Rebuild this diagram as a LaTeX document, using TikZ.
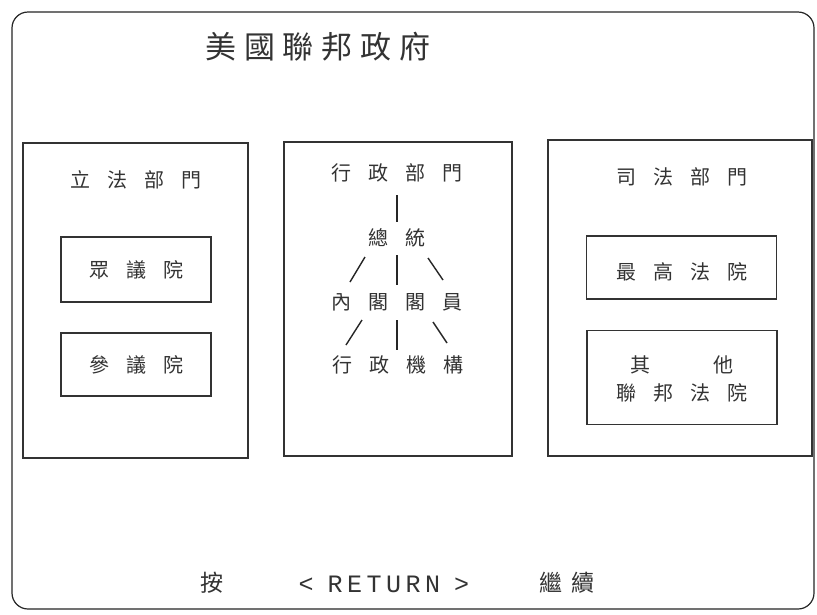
\documentclass[tikz,border=0pt]{standalone}
\usepackage{fontspec}
\newfontfamily\cjk{Noto Sans CJK TC}
\newfontfamily\monof{Liberation Mono}
\newcommand\gapc{\hspace{17pt}}
\newcommand\gapm{\hspace{4.5pt}}
\begin{document}
\begin{tikzpicture}[x=1pt,y=-1pt,
  frame/.style={draw=black!85, line width=1.2pt, rounded corners=16pt},
  panel/.style={draw=black!80, line width=1.4pt, inner sep=0pt, fill=none},
  lbl/.style={font=\cjk\fontsize{20}{28}\selectfont, inner sep=0pt, text=black!80, align=center},
  blbl/.style={font=\cjk\fontsize{23}{28}\selectfont, inner sep=0pt, text=black!80},
  ttl/.style={font=\cjk\fontsize{31}{36}\selectfont, inner sep=0pt, text=black!80},
  monolbl/.style={font=\monof\fontsize{25}{28}\selectfont, inner sep=0pt, text=black!80},
  tline/.style={draw=black!85, line width=1.4pt}]
\useasboundingbox (0,0) rectangle (817,614);
\fill[white] (0,0) rectangle (817,614);
% outer frame
\draw[frame] (12,12) rectangle (814,609);
% title
\node[ttl] (title) at (318,47) {美\hspace{8pt}國\hspace{8pt}聯\hspace{8pt}邦\hspace{8pt}政\hspace{8pt}府};
% panels
\node[panel, minimum width=225pt, minimum height=315pt] (leg) at (135.5,300.5) {};
\node[panel, minimum width=228pt, minimum height=314pt] (exe) at (398,299) {};
\node[panel, minimum width=264pt, minimum height=316pt] (jud) at (680,298) {};
% legislative
\node[lbl] (legt) at (136,180) {立\gapc{}法\gapc{}部\gapc{}門};
\node[panel, minimum width=150pt, minimum height=65pt] (houseb) at (136,269.5) {};
\node[lbl] (house) at (136,270) {眾\gapc{}議\gapc{}院};
\node[panel, minimum width=150pt, minimum height=63pt] (senb) at (136,364.5) {};
\node[lbl] (sen) at (136,365) {參\gapc{}議\gapc{}院};
% executive
\node[lbl] (exet) at (397,173) {行\gapc{}政\gapc{}部\gapc{}門};
\node[lbl] (pres) at (397,238) {總\gapc{}統};
\node[lbl] (cab) at (397,302) {內\gapc{}閣\gapc{}閣\gapc{}員};
\node[lbl] (agen) at (398,365) {行\gapc{}政\gapc{}機\gapc{}構};
\coordinate (t1) at (397,195); \coordinate (t2) at (397,222);
\coordinate (a1) at (365,257); \coordinate (a2) at (350,282);
\coordinate (b1) at (397,255); \coordinate (b2) at (397,285);
\coordinate (c1) at (428,258); \coordinate (c2) at (443,280);
\coordinate (d1) at (362,320); \coordinate (d2) at (346,345);
\coordinate (e1) at (397,320); \coordinate (e2) at (397,350);
\coordinate (f1) at (433,322); \coordinate (f2) at (447,343);
\draw[tline] (t1) -- (t2);
\draw[tline] (a1) -- (a2);
\draw[tline] (b1) -- (b2);
\draw[tline] (c1) -- (c2);
\draw[tline] (d1) -- (d2);
\draw[tline] (e1) -- (e2);
\draw[tline] (f1) -- (f2);
% judicial
\node[lbl] (judt) at (682,177) {司\gapc{}法\gapc{}部\gapc{}門};
\node[panel, minimum width=190pt, minimum height=63pt] (supb) at (681.5,267.5) {};
\node[lbl] (sup) at (682,272) {最\gapc{}高\gapc{}法\gapc{}院};
\node[panel, minimum width=190pt, minimum height=94pt] (othb) at (682,377.5) {};
\node[lbl] (oth) at (682,379) {其\hspace{63pt}他\\聯\gapc{}邦\gapc{}法\gapc{}院};
% bottom prompt
\node[blbl] (press) at (212,583) {按};
\node[monolbl] (ret) at (384,584) {<\hspace{14pt}R\gapm{}E\gapm{}T\gapm{}U\gapm{}R\gapm{}N\hspace{14pt}>};
\node[blbl] (cont) at (567,583) {繼\hspace{10pt}續};
\end{tikzpicture}
\end{document}
